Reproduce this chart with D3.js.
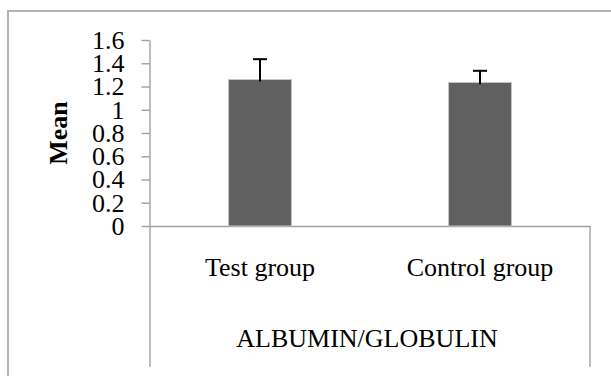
<!DOCTYPE html>
<html>
<head>
<meta charset="utf-8">
<script src="https://cdn.jsdelivr.net/npm/d3@7"></script>
<style>
  html, body { margin: 0; padding: 0; background: #fff; }
  svg { display: block; }
  text { font-family: "Liberation Serif", "Times New Roman", serif; fill: #000; }
</style>
</head>
<body>
<svg id="chart" width="611" height="376"></svg>
<script>
const categories = ["Test group", "Control group"];
const means = [1.26, 1.235];
const errors = [0.175, 0.10];
const yTicks = [0, 0.2, 0.4, 0.6, 0.8, 1, 1.2, 1.4, 1.6];
const yTickLabels = ["0", "0.2", "0.4", "0.6", "0.8", "1", "1.2", "1.4", "1.6"];
const xTitle = "ALBUMIN/GLOBULIN";
const yTitle = "Mean";

(function () {
const svg = d3.select("#chart");
const W = 611, H = 376;
const mLeft = 150, mRight = 590, mTop = 40, mBottom = 226, boxBottom = 367;

// outer border (runs off the right and bottom edges)
svg.append("rect")
  .attr("x", 8).attr("y", 11)
  .attr("width", W + 20).attr("height", H + 20)
  .attr("fill", "none").attr("stroke", "#b4b4b4").attr("stroke-width", 2);

const x = d3.scaleBand().domain(categories).range([mLeft, mRight])
  .paddingInner(0.714).paddingOuter(0.357);
const y = d3.scaleLinear().domain([0, 1.6]).range([mBottom, mTop]);

const axisColor = "#a0a0a0";

// Y axis
const yAxis = svg.append("g")
  .attr("transform", `translate(${mLeft - 0.5},0)`)
  .call(d3.axisLeft(y).tickValues(yTicks)
    .tickFormat((d, i) => yTickLabels[i])
    .tickSize(8).tickSizeOuter(0).tickPadding(17));
yAxis.selectAll("path, line").attr("stroke", axisColor).attr("stroke-width", 1.4);
yAxis.selectAll("text")
  .style("font-size", "26px")
  .attr("dy", "0.32em")
  .attr("fill", "#000");

// X axis
const xAxis = svg.append("g")
  .attr("transform", `translate(0,${mBottom})`)
  .call(d3.axisBottom(x).tickSize(0).tickSizeOuter(0).tickPadding(32));
xAxis.selectAll("path").attr("stroke", axisColor).attr("stroke-width", 1.4);
xAxis.selectAll("text")
  .style("font-size", "26px")
  .attr("fill", "#000");

// category box verticals
svg.append("g").selectAll("line")
  .data(x.range())
  .join("line")
  .attr("x1", d => d).attr("x2", d => d)
  .attr("y1", mBottom).attr("y2", boxBottom)
  .attr("stroke", axisColor).attr("stroke-width", 1.4);

// bars
svg.append("g").selectAll("rect")
  .data(categories)
  .join("rect")
  .attr("x", d => x(d))
  .attr("width", x.bandwidth())
  .attr("y", (d, i) => y(means[i]))
  .attr("height", (d, i) => y(0) - y(means[i]))
  .attr("fill", "#606060")
  .attr("stroke", "#c4c4c4")
  .attr("stroke-width", 1);

// error bars (upper only)
const eb = svg.append("g").attr("stroke", "#000").attr("stroke-width", 2);
categories.forEach((c, i) => {
  const cx = x(c) + x.bandwidth() / 2;
  eb.append("line")
    .attr("x1", cx).attr("x2", cx)
    .attr("y1", y(means[i]) + 2).attr("y2", y(means[i] + errors[i]));
  eb.append("line")
    .attr("x1", cx - 7).attr("x2", cx + 7)
    .attr("y1", y(means[i] + errors[i])).attr("y2", y(means[i] + errors[i]));
});

// titles
svg.append("text")
  .attr("x", (mLeft + mRight) / 2 - 3)
  .attr("y", 347)
  .attr("text-anchor", "middle")
  .style("font-size", "26px")
  .text(xTitle);

svg.append("text")
  .attr("transform", `translate(67,133) rotate(-90)`)
  .attr("text-anchor", "middle")
  .style("font-size", "26px")
  .style("font-weight", "bold")
  .text(yTitle);
})();
</script>
</body>
</html>
